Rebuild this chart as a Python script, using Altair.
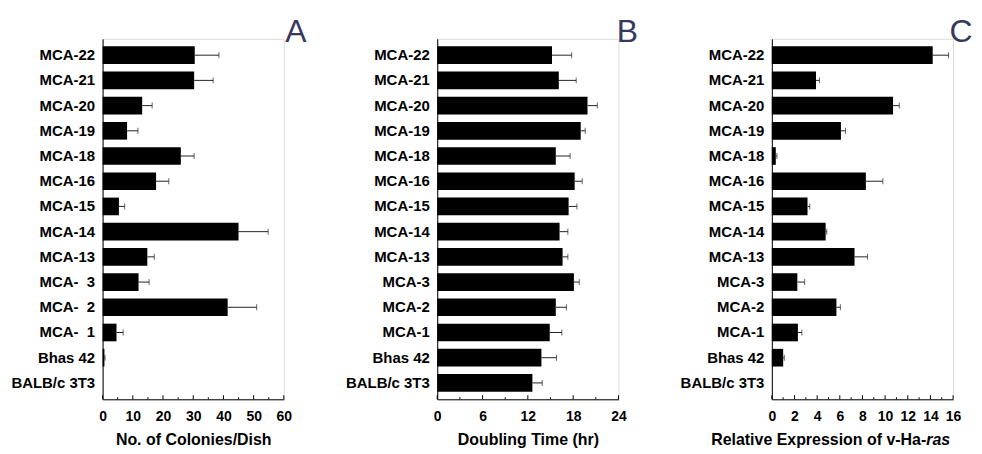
import altair as alt
import pandas as pd

# ---------------- data ----------------
labels_A = ["MCA-22", "MCA-21", "MCA-20", "MCA-19", "MCA-18", "MCA-16", "MCA-15",
            "MCA-14", "MCA-13", "MCA-\u00a0\u00a03", "MCA-\u00a0\u00a02", "MCA-\u00a0\u00a01",
            "Bhas 42", "BALB/c 3T3"]
labels_BC = ["MCA-22", "MCA-21", "MCA-20", "MCA-19", "MCA-18", "MCA-16", "MCA-15",
             "MCA-14", "MCA-13", "MCA-3", "MCA-2", "MCA-1", "Bhas 42", "BALB/c 3T3"]

colonies = [30.5, 30.3, 13.1, 8.1, 25.9, 17.7, 5.4, 45.0, 14.8, 11.9, 41.4, 4.6, 0.6, 0.0]
colonies_err = [8.0, 6.3, 3.3, 3.6, 4.4, 4.2, 1.9, 9.8, 2.3, 3.5, 9.6, 2.2, 0.2, 0.0]

doubling = [15.2, 16.1, 19.9, 19.0, 15.7, 18.2, 17.4, 16.2, 16.6, 18.1, 15.7, 14.9, 13.8, 12.6]
doubling_err = [2.6, 2.3, 1.3, 0.6, 1.9, 1.0, 1.1, 1.1, 0.7, 0.7, 1.4, 1.6, 2.0, 1.3]

expression = [14.2, 3.9, 10.7, 6.1, 0.35, 8.3, 3.15, 4.75, 7.3, 2.25, 5.7, 2.3, 1.0, 0.0]
expression_err = [1.4, 0.3, 0.55, 0.4, 0.1, 1.5, 0.2, 0.1, 1.15, 0.65, 0.35, 0.35, 0.1, 0.0]

major_A = [0, 10, 20, 30, 40, 50, 60]
minor_A = [5, 15, 25, 35, 45, 55]
major_B = [0, 6, 12, 18, 24]
minor_B = [3, 9, 15, 21]
major_C = [0, 2, 4, 6, 8, 10, 12, 14, 16]
minor_C = [1, 3, 5, 7, 9, 11, 13, 15]

title_A = "No. of Colonies/Dish"
title_B = "Doubling Time (hr)"
title_C_main = "Relative Expression of v-Ha-"
title_C_ital = "ras"

FONT = "Liberation Sans"
W, H = 182, 362
LETTER_COLOR = "#38385e"


def panel(labels, vals, errs, domain, major, minor, title, letter, letter_x,
          split_title=None):
    df = pd.DataFrame({"label": labels, "value": vals, "err": errs})
    df["hi"] = df["value"] + df["err"]
    df_err = df[df["err"] > 0]

    xscale = alt.Scale(domain=domain, nice=False, zero=True)
    xaxis = alt.Axis(
        values=major, ticks=False, labelFlush=False, labelOverlap=False,
        domainColor="black", domainWidth=1,
        labelFont=FONT, labelFontSize=14, labelFontWeight="bold", labelColor="black",
        labelPadding=10, grid=False,
        title=title if title else "", titleFont=FONT, titleFontSize=16,
        titleFontWeight="bold", titleColor="black", titlePadding=8,
    )
    xenc = alt.X("value:Q", scale=xscale, axis=xaxis)
    yenc = alt.Y(
        "label:N", sort=labels,
        scale=alt.Scale(paddingInner=0.3, paddingOuter=0.3),
        axis=alt.Axis(title=None, ticks=False, domainColor="black", domainWidth=1,
                      labelFont=FONT, labelFontSize=15, labelFontWeight="bold",
                      labelColor="black", labelPadding=8, grid=False),
    )

    bars = alt.Chart(df).mark_bar(color="black").encode(x=xenc, y=yenc)
    err_line = alt.Chart(df_err).mark_rule(color="#222222", strokeWidth=1).encode(
        x=xenc, x2="hi:Q", y=yenc)
    err_cap = alt.Chart(df_err).mark_tick(color="#222222", thickness=1, size=6).encode(
        x=alt.X("hi:Q", scale=xscale, axis=xaxis), y=yenc)

    maj = alt.Chart(pd.DataFrame({"value": major})).mark_rule(color="black").encode(
        x=xenc, y=alt.value(H - 4), y2=alt.value(H))
    mnr = alt.Chart(pd.DataFrame({"value": minor})).mark_rule(color="black").encode(
        x=xenc, y=alt.value(H - 2), y2=alt.value(H))

    let = alt.Chart(pd.DataFrame({"t": [letter]})).mark_text(
        font=FONT, fontSize=32, color=LETTER_COLOR, align="center",
        baseline="alphabetic").encode(x=alt.value(letter_x), y=alt.value(3), text="t:N")

    layers = [bars, err_line, err_cap, maj, mnr, let]
    if split_title:
        main, ital, sx = split_title
        t1 = alt.Chart(pd.DataFrame({"t": [main]})).mark_text(
            font=FONT, fontSize=16, fontWeight="bold", color="black", align="right",
            baseline="alphabetic").encode(x=alt.value(sx), y=alt.value(H + 46), text="t:N")
        t2 = alt.Chart(pd.DataFrame({"t": [ital]})).mark_text(
            font=FONT, fontSize=16, fontWeight="bold", fontStyle="italic", color="black",
            align="left", baseline="alphabetic").encode(
            x=alt.value(sx), y=alt.value(H + 46), text="t:N")
        layers += [t1, t2]
    return alt.layer(*layers).properties(width=W, height=H)


pA = panel(labels_A, colonies, colonies_err, [0, 60], major_A, minor_A,
           title_A, "A", 194)
pB = panel(labels_BC, doubling, doubling_err, [0, 24], major_B, minor_B,
           title_B, "B", 191)
pC = panel(labels_BC, expression, expression_err, [0, 16], major_C, minor_C,
           None, "C", 190, split_title=(title_C_main, title_C_ital, 155))

chart = alt.hconcat(pA, pB, pC, spacing=154, bounds="flush").properties(
    padding={"left": 2, "top": 6, "right": 0, "bottom": 0}
).configure_view(stroke=None).configure(font=FONT)

chart.save("out.html", embed_options={"renderer": "svg", "actions": False})
